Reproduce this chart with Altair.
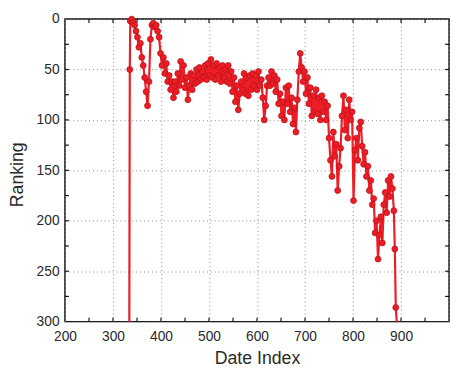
import altair as alt
import pandas as pd

# Date index and ranking values
dates_start = [334, 335]
ranks_start = [340, 50]

dates_main = list(range(336, 886, 3))
ranks_main = [
    2, 0, 3, 6, 12,
    18, 28, 24, 38, 46, 58, 72, 86,
    62, 20, 6,
    4, 8, 6, 12, 18,
    34, 46, 38, 54, 44, 62, 56, 70, 62,
    78, 62, 72, 54, 66, 42,
    60, 46, 68, 58, 80,
    66, 54, 70, 56, 64, 50, 62, 48, 60, 52, 58,
    46, 60, 44, 56, 40, 58, 46, 60, 44, 56, 48, 62, 46, 58, 50,
    62, 46, 64, 52, 72, 58, 82, 66, 90, 74, 62,
    70, 54, 74, 58, 76, 56, 70, 54, 66, 56, 70, 52, 66, 60, 78,
    100, 86, 66,
    58, 66, 52, 64, 56,
    72, 60, 84, 74, 96, 82,
    100, 68, 84, 66, 92, 78, 104, 88, 112,
    80, 52, 34, 48,
    62, 52, 74, 58, 84, 68, 96, 76, 92,
    70, 94, 78, 100, 76, 92, 82, 100, 86,
    118, 140, 156, 112, 136, 124, 170, 146, 128,
    96, 76, 110, 90, 118, 80, 100, 92,
    180, 130, 118, 140, 108,
    102, 126, 144, 132, 156, 146, 170, 160, 184,
    178, 212, 200, 238, 214,
    196, 222, 184, 172, 192, 160,
    176, 156, 168, 190,
]
dates_end = [887, 889, 891]
ranks_end = [228, 286, 340]

x_grid = list(range(200, 1001, 50))
y_grid = list(range(0, 301, 25))
x_inner_ticks = list(range(250, 1000, 50))
y_inner_ticks = list(range(25, 300, 25))

df = pd.DataFrame({
    "date": dates_start + dates_main + dates_end,
    "rank": ranks_start + ranks_main + ranks_end,
})

W, H = 391, 308
FONT = "Liberation Sans"
RED = "#ee1c24"
DARK = "#b8141c"
TXT = "#2a2a2a"

xscale = alt.Scale(domain=[200, 1000], nice=False, zero=False)
yscale = alt.Scale(domain=[0, 300], reverse=True, nice=False, clamp=True)

xaxis = alt.Axis(
    values=x_grid,
    labelExpr="datum.value % 100 == 0 && datum.value < 1000 ? datum.label : ''",
    grid=True, gridColor="#8a8a8a", gridDash=[1, 3], gridWidth=1,
    ticks=False, domain=False,
    labelFont=FONT, labelFontSize=14, labelColor=TXT, labelPadding=8,
    title="Date Index", titleFont=FONT, titleFontSize=18, titleFontWeight="normal",
    titleColor=TXT, titleX=W / 2, titleY=38, titleBaseline="middle",
    labelFlush=False, labelOverlap=False,
)
yaxis = alt.Axis(
    values=y_grid,
    labelExpr="datum.value % 50 == 0 ? datum.label : ''",
    grid=True, gridColor="#8a8a8a", gridDash=[1, 3], gridWidth=1,
    ticks=False, domain=False,
    labelFont=FONT, labelFontSize=14, labelColor=TXT, labelPadding=6,
    title="Ranking", titleFont=FONT, titleFontSize=18, titleFontWeight="normal",
    titleColor=TXT, titleX=-48, titleY=H / 2 + 4, titleBaseline="middle",
    labelFlush=False, labelOverlap=False,
)

base = alt.Chart(df)

line = base.mark_line(color=RED, strokeWidth=2.2).encode(
    x=alt.X("date:Q", scale=xscale, axis=xaxis),
    y=alt.Y("rank:Q", scale=yscale, axis=yaxis),
    order="date:Q",
)

points = base.transform_filter("datum.rank <= 300").mark_point(
    filled=True, shape="circle", size=36, color=RED, stroke=DARK, strokeWidth=0.8, opacity=1
).encode(
    x=alt.X("date:Q", scale=xscale),
    y=alt.Y("rank:Q", scale=yscale),
)

xt = pd.DataFrame({"v": x_inner_ticks})
yt = pd.DataFrame({"v": y_inner_ticks})

tick_style = dict(color="#111111", strokeWidth=1.2)
xt_bottom = alt.Chart(xt).mark_rule(**tick_style).encode(
    x=alt.X("v:Q", scale=xscale), y=alt.value(H), y2=alt.value(H - 4))
xt_top = alt.Chart(xt).mark_rule(**tick_style).encode(
    x=alt.X("v:Q", scale=xscale), y=alt.value(0), y2=alt.value(4))
yt_left = alt.Chart(yt).mark_rule(**tick_style).encode(
    y=alt.Y("v:Q", scale=yscale), x=alt.value(0), x2=alt.value(4))
yt_right = alt.Chart(yt).mark_rule(**tick_style).encode(
    y=alt.Y("v:Q", scale=yscale), x=alt.value(W), x2=alt.value(W - 4))

chart = alt.layer(xt_bottom, xt_top, yt_left, yt_right, line, points).properties(
    width=W, height=H,
    autosize=alt.AutoSizeParams(type="none"),
    padding={"left": 58, "top": 8, "right": 4, "bottom": 48},
    background="white",
).configure_view(stroke="#111111", strokeWidth=1.5)

chart.save("out.html", embed_options={"renderer": "svg", "actions": False})
